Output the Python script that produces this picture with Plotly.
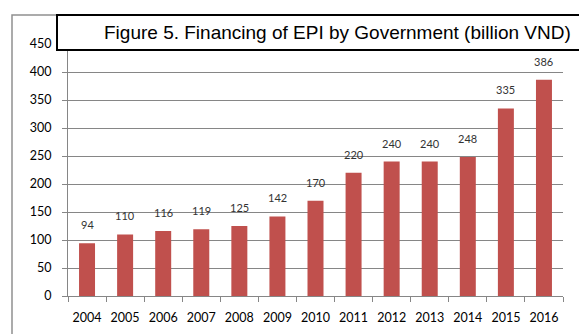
import plotly.graph_objects as go

years = ["2004", "2005", "2006", "2007", "2008", "2009", "2010", "2011", "2012", "2013", "2014", "2015", "2016"]
values = [94, 110, 116, 119, 125, 142, 170, 220, 240, 240, 248, 335, 386]
title_text = "Figure 5. Financing of EPI by Government (billion VND)"

W, H = 579, 334
L, R, T, B = 68, 16, 44, 38
pw, ph = W - L - R, H - T - B

def px(x):
    return (x - L) / pw

def py(y):
    return (H - B - y) / ph

fig = go.Figure()
fig.add_trace(go.Bar(
    x=years, y=values,
    marker=dict(color="#C0504D", line=dict(width=0)),
    width=0.42,
))

annots = [
    dict(x=i, y=v, xref="x", yref="y", text=str(v), showarrow=False,
         yanchor="bottom", yshift=10,
         font=dict(family="Lato, Carlito, sans-serif", size=11, color="#333333"))
    for i, v in enumerate(values)
]
annots.append(
    dict(text=title_text, xref="paper", yref="paper", x=px(573), y=py(33),
         xanchor="right", yanchor="middle", showarrow=False,
         font=dict(family="Liberation Sans, Arial, sans-serif", size=19, color="black"))
)

grid = "#868686"
fig.update_layout(
    width=W, height=H,
    margin=dict(l=L, r=R, t=T, b=B, autoexpand=False),
    plot_bgcolor="white", paper_bgcolor="white",
    showlegend=False,
    xaxis=dict(
        type="category", range=[-0.5, len(years) - 0.5], automargin=False,
        showgrid=False, showline=True, linecolor=grid, linewidth=1,
        ticks="outside", tickson="boundaries", ticklen=5, tickcolor=grid,
        ticklabelstandoff=10,
        tickfont=dict(family="Lato, Carlito, sans-serif", size=12.5, color="black"),
    ),
    yaxis=dict(
        range=[0, 450], dtick=50, showgrid=True, gridcolor=grid, gridwidth=1,
        showline=True, linecolor=grid, linewidth=1, automargin=False,
        ticks="outside", ticklen=5, tickcolor=grid,
        ticklabelstandoff=8,
        zeroline=False,
        tickfont=dict(family="Lato, Carlito, sans-serif", size=12.5, color="black"),
    ),
    shapes=[
        dict(type="rect", xref="paper", yref="paper",
             x0=px(12), x1=px(600), y0=py(340), y1=py(15),
             line=dict(color="#909090", width=1.5), fillcolor="rgba(0,0,0,0)", layer="below"),
        dict(type="rect", xref="paper", yref="paper",
             x0=px(57), x1=px(600), y0=py(50), y1=py(15),
             line=dict(color="black", width=2), fillcolor="white", layer="above"),
    ],
    annotations=annots,
)

fig.write_html("out.html")
